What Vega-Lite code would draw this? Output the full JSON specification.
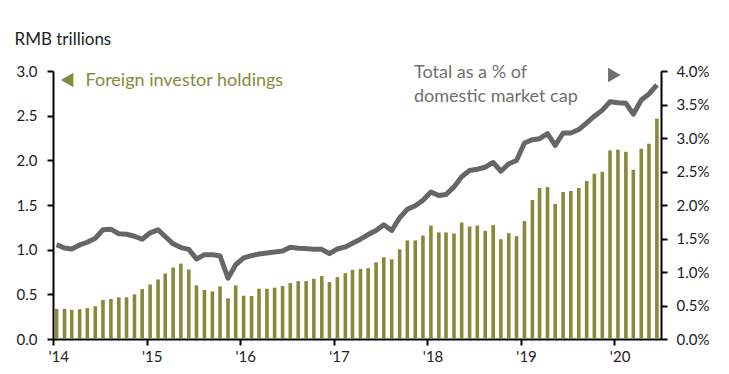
{
  "$schema": "https://vega.github.io/schema/vega-lite/v6.json",
  "width": 608,
  "height": 268,
  "autosize": {"type": "none"},
  "padding": {"left": 53, "top": 71, "right": 68, "bottom": 35},
  "config": {
    "font": "Lato",
    "view": {"stroke": null},
    "axis": {
      "grid": false,
      "ticks": true,
      "domainColor": "#000000",
      "domainWidth": 2,
      "tickColor": "#000000",
      "tickWidth": 2,
      "tickSize": 6,
      "labelFontSize": 15,
      "labelColor": "#222222",
      "labelFont": "Lato"
    }
  },
  "datasets": {
    "main": [
      {"date": "2014-01-15", "holdings": 0.337, "pct": 1.409},
      {"date": "2014-02-15", "holdings": 0.337, "pct": 1.359},
      {"date": "2014-03-15", "holdings": 0.326, "pct": 1.344},
      {"date": "2014-04-15", "holdings": 0.333, "pct": 1.404},
      {"date": "2014-05-15", "holdings": 0.348, "pct": 1.444},
      {"date": "2014-06-15", "holdings": 0.367, "pct": 1.504},
      {"date": "2014-07-15", "holdings": 0.437, "pct": 1.63},
      {"date": "2014-08-15", "holdings": 0.448, "pct": 1.639},
      {"date": "2014-09-15", "holdings": 0.467, "pct": 1.57},
      {"date": "2014-10-15", "holdings": 0.467, "pct": 1.564},
      {"date": "2014-11-15", "holdings": 0.5, "pct": 1.534},
      {"date": "2014-12-15", "holdings": 0.559, "pct": 1.489},
      {"date": "2015-01-15", "holdings": 0.611, "pct": 1.585},
      {"date": "2015-02-15", "holdings": 0.667, "pct": 1.63},
      {"date": "2015-03-15", "holdings": 0.733, "pct": 1.53},
      {"date": "2015-04-15", "holdings": 0.8, "pct": 1.42},
      {"date": "2015-05-15", "holdings": 0.844, "pct": 1.364},
      {"date": "2015-06-15", "holdings": 0.778, "pct": 1.338},
      {"date": "2015-07-15", "holdings": 0.6, "pct": 1.194},
      {"date": "2015-08-15", "holdings": 0.548, "pct": 1.259},
      {"date": "2015-09-15", "holdings": 0.533, "pct": 1.259},
      {"date": "2015-10-15", "holdings": 0.589, "pct": 1.239},
      {"date": "2015-11-15", "holdings": 0.456, "pct": 0.908},
      {"date": "2015-12-15", "holdings": 0.6, "pct": 1.108},
      {"date": "2016-01-15", "holdings": 0.485, "pct": 1.21},
      {"date": "2016-02-15", "holdings": 0.481, "pct": 1.245},
      {"date": "2016-03-15", "holdings": 0.563, "pct": 1.269},
      {"date": "2016-04-15", "holdings": 0.563, "pct": 1.284},
      {"date": "2016-05-15", "holdings": 0.574, "pct": 1.299},
      {"date": "2016-06-15", "holdings": 0.593, "pct": 1.314},
      {"date": "2016-07-15", "holdings": 0.626, "pct": 1.368},
      {"date": "2016-08-15", "holdings": 0.648, "pct": 1.353},
      {"date": "2016-09-15", "holdings": 0.648, "pct": 1.349},
      {"date": "2016-10-15", "holdings": 0.674, "pct": 1.338},
      {"date": "2016-11-15", "holdings": 0.704, "pct": 1.338},
      {"date": "2016-12-15", "holdings": 0.637, "pct": 1.274},
      {"date": "2017-01-15", "holdings": 0.693, "pct": 1.344},
      {"date": "2017-02-15", "holdings": 0.737, "pct": 1.374},
      {"date": "2017-03-15", "holdings": 0.774, "pct": 1.429},
      {"date": "2017-04-15", "holdings": 0.785, "pct": 1.489},
      {"date": "2017-05-15", "holdings": 0.793, "pct": 1.559},
      {"date": "2017-06-15", "holdings": 0.859, "pct": 1.62},
      {"date": "2017-07-15", "holdings": 0.915, "pct": 1.705},
      {"date": "2017-08-15", "holdings": 0.893, "pct": 1.62},
      {"date": "2017-09-15", "holdings": 1.004, "pct": 1.81},
      {"date": "2017-10-15", "holdings": 1.104, "pct": 1.935},
      {"date": "2017-11-15", "holdings": 1.104, "pct": 1.99},
      {"date": "2017-12-15", "holdings": 1.159, "pct": 2.071},
      {"date": "2018-01-15", "holdings": 1.27, "pct": 2.195},
      {"date": "2018-02-15", "holdings": 1.193, "pct": 2.141},
      {"date": "2018-03-15", "holdings": 1.193, "pct": 2.156},
      {"date": "2018-04-15", "holdings": 1.181, "pct": 2.27},
      {"date": "2018-05-15", "holdings": 1.304, "pct": 2.423},
      {"date": "2018-06-15", "holdings": 1.259, "pct": 2.514},
      {"date": "2018-07-15", "holdings": 1.27, "pct": 2.534},
      {"date": "2018-08-15", "holdings": 1.21, "pct": 2.564},
      {"date": "2018-09-15", "holdings": 1.275, "pct": 2.635},
      {"date": "2018-10-15", "holdings": 1.117, "pct": 2.504},
      {"date": "2018-11-15", "holdings": 1.185, "pct": 2.615},
      {"date": "2018-12-15", "holdings": 1.151, "pct": 2.665},
      {"date": "2019-01-15", "holdings": 1.32, "pct": 2.925},
      {"date": "2019-02-15", "holdings": 1.556, "pct": 2.975},
      {"date": "2019-03-15", "holdings": 1.691, "pct": 2.99},
      {"date": "2019-04-15", "holdings": 1.702, "pct": 3.066},
      {"date": "2019-05-15", "holdings": 1.511, "pct": 2.89},
      {"date": "2019-06-15", "holdings": 1.646, "pct": 3.075},
      {"date": "2019-07-15", "holdings": 1.657, "pct": 3.075},
      {"date": "2019-08-15", "holdings": 1.691, "pct": 3.126},
      {"date": "2019-09-15", "holdings": 1.77, "pct": 3.226},
      {"date": "2019-10-15", "holdings": 1.849, "pct": 3.326},
      {"date": "2019-11-15", "holdings": 1.871, "pct": 3.416},
      {"date": "2019-12-15", "holdings": 2.111, "pct": 3.541},
      {"date": "2020-01-15", "holdings": 2.119, "pct": 3.526},
      {"date": "2020-02-15", "holdings": 2.096, "pct": 3.517},
      {"date": "2020-03-15", "holdings": 1.894, "pct": 3.356},
      {"date": "2020-04-15", "holdings": 2.13, "pct": 3.566},
      {"date": "2020-05-15", "holdings": 2.186, "pct": 3.657},
      {"date": "2020-06-15", "holdings": 2.467, "pct": 3.792}
    ],
    "notes": [
      {"date": "2014-05-08", "v": 2.89, "label": "Foreign investor holdings", "kind": "olive"},
      {"date": "2017-11-10", "v": 2.978, "label": "Total as a % of", "kind": "gray"},
      {"date": "2017-11-10", "v": 2.71, "label": "domestic market cap", "kind": "gray"}
    ],
    "arrows": [
      {"date": "2014-02-25", "v": 2.9, "shape": "triangle-left", "kind": "olive"},
      {"date": "2020-01-01", "v": 2.955, "shape": "triangle-right", "kind": "gray"}
    ]
  },
  "encoding": {
    "x": {
      "field": "date",
      "type": "temporal",
      "scale": {
        "type": "utc",
        "padding": 0,
        "domain": [
          {"year": 2014, "month": 1, "date": 1, "utc": true},
          {"year": 2020, "month": 7, "date": 1, "utc": true}
        ]
      },
      "axis": {
        "title": null,
        "ticks": true,
        "tickSize": 6,
        "labelExpr": "\"'\" + utcFormat(datum.value, '%y')",
        "labelPadding": 4,
        "labelAlign": "left",
        "labelOffset": -5,
        "values": [
          {"year": 2014, "month": 1, "date": 1, "utc": true},
          {"year": 2015, "month": 1, "date": 1, "utc": true},
          {"year": 2016, "month": 1, "date": 1, "utc": true},
          {"year": 2017, "month": 1, "date": 1, "utc": true},
          {"year": 2018, "month": 1, "date": 1, "utc": true},
          {"year": 2019, "month": 1, "date": 1, "utc": true},
          {"year": 2020, "month": 1, "date": 1, "utc": true}
        ]
      }
    }
  },
  "layer": [
    {
      "layer": [
        {
          "data": {"name": "main"},
          "mark": {"type": "bar", "color": "#868a3b", "size": 3.6},
          "encoding": {
            "y": {
              "field": "holdings",
              "type": "quantitative",
              "scale": {"domain": [0, 3], "nice": false},
              "axis": {
                "orient": "left",
                "values": [0, 0.5, 1, 1.5, 2, 2.5, 3],
                "format": ".1f",
                "labelPadding": 10,
                "title": "RMB trillions",
                "titleAngle": 0,
                "titleAlign": "left",
                "titleBaseline": "middle",
                "titleX": -39,
                "titleY": -32,
                "titleFontSize": 17,
                "titleFontWeight": "normal",
                "titleColor": "#222222",
                "titleFont": "Lato"
              }
            }
          }
        },
        {
          "data": {"name": "notes"},
          "mark": {"type": "text", "align": "left", "baseline": "middle", "fontSize": 18},
          "encoding": {
            "y": {"field": "v", "type": "quantitative"},
            "text": {"field": "label"},
            "color": {
              "field": "kind",
              "type": "nominal",
              "scale": {"domain": ["olive", "gray"], "range": ["#868a3b", "#707070"]},
              "legend": null
            }
          }
        },
        {
          "data": {"name": "arrows"},
          "mark": {"type": "point", "filled": true, "opacity": 1, "size": 210},
          "encoding": {
            "y": {"field": "v", "type": "quantitative"},
            "shape": {"field": "shape", "type": "nominal", "scale": null, "legend": null},
            "color": {
              "field": "kind",
              "type": "nominal",
              "scale": {"domain": ["olive", "gray"], "range": ["#868a3b", "#707070"]},
              "legend": null
            }
          }
        }
      ]
    },
    {
      "data": {"name": "main"},
      "mark": {"type": "line", "color": "#666666", "strokeWidth": 5, "strokeJoin": "round", "strokeCap": "butt"},
      "encoding": {
        "y": {
          "field": "pct",
          "type": "quantitative",
          "scale": {"domain": [0, 4], "nice": false},
          "axis": {
            "orient": "right",
            "title": null,
            "values": [0, 0.5, 1, 1.5, 2, 2.5, 3, 3.5, 4],
            "labelExpr": "format(datum.value, '.1f') + '%'",
            "labelPadding": 9
          }
        }
      }
    }
  ],
  "resolve": {"scale": {"y": "independent", "color": "shared"}}
}
